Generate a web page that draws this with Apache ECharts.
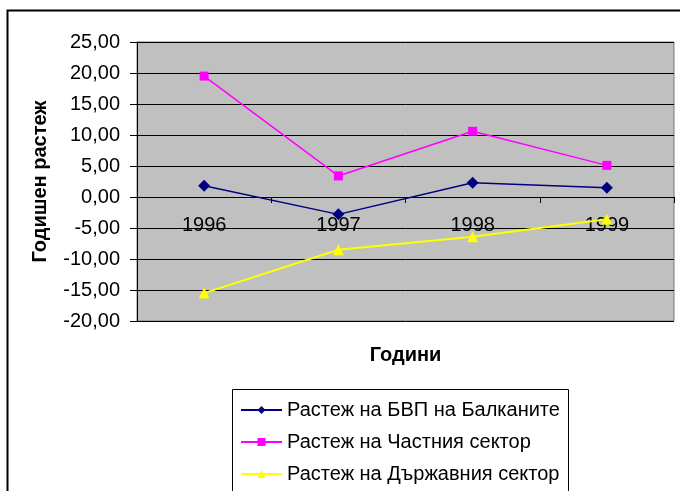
<!DOCTYPE html>
<html><head><meta charset="utf-8">
<script src="https://cdn.jsdelivr.net/npm/echarts@6/dist/echarts.min.js"></script>
<style>html,body{margin:0;padding:0;background:#fff}#c{width:680px;height:491px}</style>
</head><body><div id="c"></div>
<script>
const categories = ['1996', '1997', '1998', '1999'];
const gdpBalkans = [1.8, -2.8, 2.3, 1.5];
const privateSector = [19.5, 3.4, 10.6, 5.1];
const stateSector = [-15.5, -8.5, -6.4, -3.6];
const seriesNames = ['Растеж на БВП на Балканите', 'Растеж на Частния сектор', 'Растеж на Държавния сектор'];

const chart = echarts.init(document.getElementById('c'), null, {renderer: 'canvas'});
const font = 'Liberation Sans, Arial, sans-serif';
const gridTop = 42, gridBottom = 170, H = 491, yMin = -20, yMax = 25;
const plotH = H - gridTop - gridBottom;
const zeroOffset = -Math.round(plotH * (0 - yMin) / (yMax - yMin));
chart.setOption({
  animation: false,
  backgroundColor: '#fff',
  textStyle: {fontFamily: font},
  graphic: [
    {type: 'rect', left: 5, top: 8, z: -10, silent: true,
      shape: {x: 0, y: 0, width: 700, height: 520},
      style: {fill: 'none', stroke: '#000', lineWidth: 2}},
    {type: 'rect', z: 100, silent: true,
      shape: {x: 232.5, y: 389.5, width: 336, height: 140},
      style: {fill: 'none', stroke: '#000', lineWidth: 1}}
  ],
  grid: {left: 137, right: 6, top: gridTop, bottom: gridBottom, show: true, backgroundColor: '#C0C0C0', borderColor: '#7a7a7a', borderWidth: 1},
  xAxis: {
    type: 'category', data: categories, boundaryGap: true,
    offset: zeroOffset,
    axisLine: {onZero: false, lineStyle: {color: '#000', width: 1}},
    axisTick: {show: true, length: 6, lineStyle: {color: '#000'}},
    axisLabel: {color: '#000', fontSize: 20, margin: 18, fontFamily: font},
    splitLine: {show: false},
    name: 'Години', nameLocation: 'middle', nameGap: 148,
    nameTextStyle: {color: '#000', fontSize: 20, fontWeight: 'bold', fontFamily: font}
  },
  yAxis: {
    type: 'value', min: yMin, max: yMax, interval: 5,
    axisLine: {show: true, lineStyle: {color: '#000'}},
    axisTick: {show: true, length: 7, lineStyle: {color: '#000'}},
    axisLabel: {color: '#000', fontSize: 20, margin: 17, fontFamily: font,
      formatter: v => v.toFixed(2).replace('.', ',')},
    splitLine: {show: true, lineStyle: {color: '#000', width: 1}},
    name: 'Годишен растеж', nameLocation: 'middle', nameGap: 87,
    nameTextStyle: {color: '#000', fontSize: 20, fontWeight: 'bold', fontFamily: font}
  },
  legend: {
    orient: 'vertical', left: 232, top: 390,
    padding: [10, 8, 0, 8],
    backgroundColor: '#fff',
    itemWidth: 41, itemHeight: 10, itemGap: 12,
    textStyle: {color: '#000', fontSize: 20, fontFamily: font},
    data: seriesNames
  },
  series: [
    {name: seriesNames[0], type: 'line', data: gdpBalkans, color: '#000080',
      symbol: 'diamond', symbolSize: 12, lineStyle: {width: 1.5}},
    {name: seriesNames[1], type: 'line', data: privateSector, color: '#FF00FF',
      symbol: 'rect', symbolSize: 9, lineStyle: {width: 1.5}},
    {name: seriesNames[2], type: 'line', data: stateSector, color: '#FFFF00',
      symbol: 'triangle', symbolSize: 11, lineStyle: {width: 2}}
  ]
});
</script></body></html>
